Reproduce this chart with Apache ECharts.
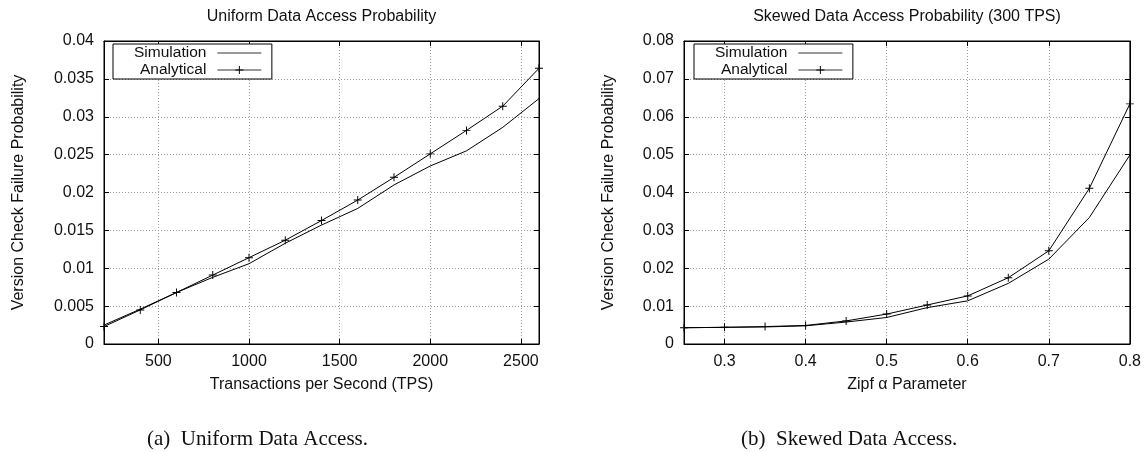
<!DOCTYPE html>
<html>
<head>
<meta charset="utf-8">
<script src="https://cdn.jsdelivr.net/npm/echarts@6/dist/echarts.min.js"></script>
<style>
html,body{margin:0;padding:0;background:#fff;}
#chart{width:1144px;height:452px;}
</style>
</head>
<body>
<div id="chart"></div>
<script>
// ---- Data ----
const tpsValues = [200, 400, 600, 800, 1000, 1200, 1400, 1600, 1800, 2000, 2200, 2400, 2600];
const simUniform = [0.0025, 0.0046, 0.0068, 0.0088, 0.0106, 0.0133, 0.0157, 0.0179, 0.0210, 0.0235, 0.0255, 0.0286, 0.0324];
const anaUniform = [0.0023, 0.0045, 0.0068, 0.0091, 0.0114, 0.0137, 0.0163, 0.0190, 0.0220, 0.0251, 0.0282, 0.0314, 0.0364];

const zipfAlpha = [0.25, 0.3, 0.35, 0.4, 0.45, 0.5, 0.55, 0.6, 0.65, 0.7, 0.75, 0.8];
const simSkewed = [0.0043, 0.0044, 0.0045, 0.0048, 0.0058, 0.0070, 0.0096, 0.0114, 0.0160, 0.0224, 0.0334, 0.0499];
const anaSkewed = [0.0043, 0.0044, 0.0046, 0.0049, 0.0061, 0.0079, 0.0103, 0.0127, 0.0175, 0.0246, 0.0411, 0.0634];

const seriesNames = ['Simulation', 'Analytical'];
const panelTitles = ['Uniform Data Access Probability', 'Skewed Data Access Probability (300 TPS)'];
const captions = ['(a)  Uniform Data Access.', '(b)  Skewed Data Access.'];
const xNames = ['Transactions per Second (TPS)', 'Zipf \u03b1 Parameter'];
const yName = 'Version Check Failure Probability';

// ---- Helpers ----
const zip = (xs, ys) => xs.map((x, i) => [x, ys[i]]);
const FONT = 'Liberation Sans, Arial, Helvetica, sans-serif';
const TXT = '#111';
const plusSymbol = 'path://M0,4.4H10V5.6H0Z M4.4,0H5.6V10H4.4Z';

const grids = [
  {left: 104, top: 41, width: 435, height: 303},
  {left: 684, top: 41, width: 446, height: 303}
];

function bottomX(gi, min, max, name, labelExtra) {
  return {
    type: 'value', gridIndex: gi, min: min, max: max, position: 'bottom',
    name: name, nameLocation: 'middle', nameGap: 33,
    nameTextStyle: {fontFamily: FONT, fontSize: 16, color: TXT},
    axisLine: {show: true, onZero: false, lineStyle: {color: '#000', width: 1}},
    axisTick: {show: true, inside: true, length: 5, lineStyle: {color: '#000'}},
    axisLabel: Object.assign({fontFamily: FONT, fontSize: 16, color: TXT, margin: 10, showMinLabel: false}, labelExtra || {}),
    splitLine: {show: true, lineStyle: {color: '#999', type: [1, 2], width: 1}}
  };
}
function topX(gi, min, max) {
  return {
    type: 'value', gridIndex: gi, min: min, max: max, position: 'top',
    axisLine: {show: true, onZero: false, lineStyle: {color: '#000'}},
    axisTick: {show: true, inside: true, length: 5, lineStyle: {color: '#000'}},
    axisLabel: {show: false}, splitLine: {show: false}
  };
}
function leftY(gi, max, interval, gap) {
  return {
    type: 'value', gridIndex: gi, min: 0, max: max, interval: interval, position: 'left',
    name: yName, nameLocation: 'middle', nameGap: gap, nameRotate: 90,
    nameTextStyle: {fontFamily: FONT, fontSize: 16, color: TXT},
    axisLine: {show: true, onZero: false, lineStyle: {color: '#000'}},
    axisTick: {show: true, inside: true, length: 5, lineStyle: {color: '#000'}},
    axisLabel: {fontFamily: FONT, fontSize: 16, color: TXT, margin: 10},
    splitLine: {show: true, lineStyle: {color: '#999', type: [1, 2], width: 1}}
  };
}
function rightY(gi, max, interval) {
  return {
    type: 'value', gridIndex: gi, min: 0, max: max, interval: interval, position: 'right',
    axisLine: {show: true, onZero: false, lineStyle: {color: '#000'}},
    axisTick: {show: true, inside: true, length: 5, lineStyle: {color: '#000'}},
    axisLabel: {show: false}, splitLine: {show: false}
  };
}
function legendAt(left) {
  return {
    orient: 'vertical', left: left, top: 44, align: 'right',
    padding: [1, 10, 1, 21], itemGap: 1, itemWidth: 44, itemHeight: 10,
    borderColor: '#000', borderWidth: 1, backgroundColor: '#fff',
    selectedMode: false,
    lineStyle: {width: 1, color: '#333'},
    data: [
      {name: seriesNames[0], itemStyle: {opacity: 0}},
      {name: seriesNames[1]}
    ],
    textStyle: {fontFamily: FONT, fontSize: 15.5, color: TXT, width: 75, align: 'right', padding: [0, 6, 0, 0]}
  };
}
function lineSeries(name, xi, yi, data, withMarker) {
  return {
    name: name, type: 'line', xAxisIndex: xi, yAxisIndex: yi, data: data,
    symbol: withMarker ? plusSymbol : 'none', symbolSize: 8,
    showSymbol: !!withMarker, showAllSymbol: true,
    itemStyle: {color: '#000'},
    lineStyle: {color: '#000', width: 1},
    emphasis: {disabled: true}, animation: false, z: 3
  };
}

const option = {
  animation: false,
  backgroundColor: '#fff',
  title: [
    {text: panelTitles[0], left: 321.5, top: 16.5, textAlign: 'center', textVerticalAlign: 'middle', padding: 0,
     textStyle: {fontFamily: FONT, fontSize: 16, fontWeight: 'normal', color: TXT}},
    {text: panelTitles[1], left: 907, top: 16.5, textAlign: 'center', textVerticalAlign: 'middle', padding: 0,
     textStyle: {fontFamily: FONT, fontSize: 16, fontWeight: 'normal', color: TXT}},
    {text: captions[0], left: 147, top: 439, textAlign: 'left', textVerticalAlign: 'middle', padding: 0,
     textStyle: {fontFamily: 'Liberation Serif, Times New Roman, serif', fontSize: 21, fontWeight: 'normal', color: TXT}},
    {text: captions[1], left: 741, top: 439, textAlign: 'left', textVerticalAlign: 'middle', padding: 0,
     textStyle: {fontFamily: 'Liberation Serif, Times New Roman, serif', fontSize: 21, fontWeight: 'normal', color: TXT}}
  ],
  legend: [legendAt(113), legendAt(694)],
  grid: grids.map(g => Object.assign({show: true, borderColor: '#000', borderWidth: 1, backgroundColor: 'transparent', containLabel: false}, g)),
  xAxis: [
    bottomX(0, 200, 2600, xNames[0], {showMaxLabel: false, formatter: v => String(v)}),
    topX(0, 200, 2600),
    bottomX(1, 0.25, 0.8, xNames[1]),
    topX(1, 0.25, 0.8)
  ],
  yAxis: [
    leftY(0, 0.04, 0.005, 77),
    rightY(0, 0.04, 0.005),
    leftY(1, 0.08, 0.01, 67),
    rightY(1, 0.08, 0.01)
  ],
  series: [
    lineSeries(seriesNames[0], 0, 0, zip(tpsValues, simUniform), false),
    lineSeries(seriesNames[1], 0, 0, zip(tpsValues, anaUniform), true),
    lineSeries(seriesNames[0], 2, 2, zip(zipfAlpha, simSkewed), false),
    lineSeries(seriesNames[1], 2, 2, zip(zipfAlpha, anaSkewed), true)
  ]
};

const chart = echarts.init(document.getElementById('chart'), null, {renderer: 'canvas'});
chart.setOption(option);
</script>
</body>
</html>
